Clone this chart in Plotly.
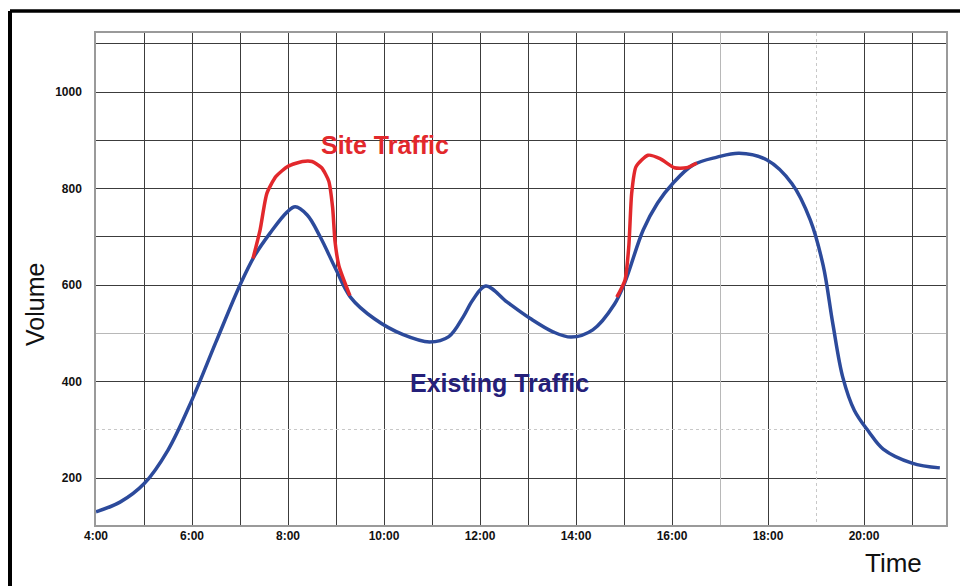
import plotly.graph_objects as go

# Existing traffic (hour of day, volume)
existing_hours = [4.0, 4.5, 5.0, 5.5, 6.0, 6.5, 7.0, 7.3, 7.63, 7.98, 8.15, 8.4, 8.67,
                  9.0, 9.3, 9.8, 10.4, 10.95, 11.35, 11.65, 11.85, 12.12, 12.56, 13.04,
                  13.52, 13.9, 14.35, 14.8, 15.02, 15.4, 15.7, 16.02, 16.44, 16.94, 17.4,
                  17.98, 18.5, 18.88, 19.15, 19.35, 19.56, 19.8, 20.1, 20.4, 21.0, 21.58]
existing_volume = [130, 150, 188, 258, 362, 482, 600, 660, 708, 751, 762, 745, 700,
                   632, 575, 530, 497, 482, 493, 534, 569, 598, 565, 531,
                   503, 492, 507, 560, 606, 714, 770, 811, 849, 865, 873,
                   859, 810, 735, 640, 520, 408, 340, 296, 260, 231, 221]

# Site traffic (morning and afternoon peaks)
site_am_hours = [7.27, 7.42, 7.56, 7.75, 8.0, 8.3, 8.5, 8.7, 8.85, 8.93, 8.98, 9.06, 9.29]
site_am_volume = [655, 715, 790, 825, 846, 856, 856, 843, 815, 760, 690, 640, 578]
site_pm_hours = [14.85, 15.02, 15.1, 15.16, 15.25, 15.5, 15.75, 16.05, 16.3, 16.52]
site_pm_volume = [575, 610, 680, 790, 845, 869, 862, 843, 843, 853]

x_tick_vals = [4, 6, 8, 10, 12, 14, 16, 18, 20]
x_tick_text = ["4:00", "6:00", "8:00", "10:00", "12:00", "14:00", "16:00", "18:00", "20:00"]
y_tick_vals = [200, 400, 600, 800, 1000]

BLUE = "#2c4a9b"
RED = "#e2282c"
NAVY = "#25207a"
GRID = "#3c3c3c"
FONT = "Liberation Sans, Arial, sans-serif"

fig = go.Figure()

# helper traces for overlay axes (special grid lines)
fig.add_trace(go.Scatter(x=[], y=[], xaxis="x2", yaxis="y2", showlegend=False))
fig.add_trace(go.Scatter(x=[], y=[], xaxis="x3", yaxis="y3", showlegend=False))

fig.add_trace(go.Scatter(x=existing_hours, y=existing_volume, mode="lines",
                         line=dict(color=BLUE, width=3.5, shape="spline", smoothing=1.0),
                         showlegend=False, hoverinfo="skip"))
fig.add_trace(go.Scatter(x=site_am_hours, y=site_am_volume, mode="lines",
                         line=dict(color=RED, width=3.5, shape="spline", smoothing=0.6),
                         showlegend=False, hoverinfo="skip"))
fig.add_trace(go.Scatter(x=site_pm_hours, y=site_pm_volume, mode="lines",
                         line=dict(color=RED, width=3.5, shape="spline", smoothing=0.6),
                         showlegend=False, hoverinfo="skip"))

xr = [4, 4 + 850 / 48]
yr = [102.6, 1122.3]

fig.update_layout(
    width=960, height=586,
    margin=dict(l=96, r=14, t=33, b=61),
    paper_bgcolor="white", plot_bgcolor="white",
    font=dict(family=FONT, color="#111"),
    xaxis=dict(range=xr, tickvals=x_tick_vals, ticktext=x_tick_text,
               showgrid=True, gridcolor=GRID, gridwidth=1.2,
               minor=dict(tickvals=[5, 7, 9, 11, 13, 15, 21], showgrid=True,
                          gridcolor=GRID, gridwidth=1.2),
               showline=False, zeroline=False, ticks="",
               tickfont=dict(size=12, family=FONT, color="#111", weight="bold"),
               ticklabelstandoff=2),
    yaxis=dict(range=yr, tickvals=y_tick_vals,
               showgrid=True, gridcolor=GRID, gridwidth=1.2,
               minor=dict(tickvals=[700, 900, 1100], showgrid=True,
                          gridcolor=GRID, gridwidth=1.2),
               showline=True, linecolor="#9a9a9a", linewidth=1.5, mirror=False,
               zeroline=False, ticks="",
               tickfont=dict(size=12, family=FONT, color="#111", weight="bold"),
               ticklabelstandoff=10),
    xaxis2=dict(range=xr, overlaying="x", tickvals=[17], showticklabels=False,
                showgrid=True, gridcolor="#b8b8b8", gridwidth=1.2, zeroline=False,
                showline=True, linecolor="#9a9a9a", linewidth=1.5, side="top", mirror=True),
    yaxis2=dict(range=yr, overlaying="y", tickvals=[500], showticklabels=False,
                showgrid=True, gridcolor="#b8b8b8", gridwidth=1.2, zeroline=False,
                showline=True, linecolor="#9a9a9a", linewidth=1.5, side="right"),
    xaxis3=dict(range=xr, overlaying="x", tickvals=[19], showticklabels=False,
                showgrid=True, gridcolor="#c8c8c8", gridwidth=1, griddash="dot",
                zeroline=False),
    yaxis3=dict(range=yr, overlaying="y", tickvals=[300], showticklabels=False,
                showgrid=True, gridcolor="#c8c8c8", gridwidth=1, griddash="dot",
                zeroline=False),
)

fig.add_annotation(x=10.02, y=890, xref="x", yref="y", text="<b>Site Traffic</b>",
                   showarrow=False, xanchor="center", yanchor="middle",
                   font=dict(size=25, color=RED, family=FONT))
fig.add_annotation(x=12.4, y=397, xref="x", yref="y", text="<b>Existing Traffic</b>",
                   showarrow=False, xanchor="center", yanchor="middle",
                   font=dict(size=25, color=NAVY, family=FONT))
fig.add_annotation(x=(893 - 96) / 850, y=(525 - 563) / 492, xref="paper", yref="paper",
                   text="Time", showarrow=False, xanchor="center", yanchor="middle",
                   font=dict(size=26, color="#111", family=FONT))
fig.add_annotation(x=(35 - 96) / 850, y=(525 - 305) / 492, xref="paper", yref="paper",
                   text="Volume", textangle=-90, showarrow=False,
                   xanchor="center", yanchor="middle",
                   font=dict(size=25, color="#111", family=FONT))

# outer black frame (left and top edges)
fx = (10 - 96) / 850
fy = (525 - 11) / 492
fig.add_shape(type="line", xref="paper", yref="paper", x0=fx, x1=fx, y0=-0.3, y1=fy,
              line=dict(color="black", width=4))
fig.add_shape(type="line", xref="paper", yref="paper", x0=fx, x1=1.2, y0=fy, y1=fy,
              line=dict(color="black", width=3.5))

fig.write_html("out.html", config={"displayModeBar": False},
               post_script="document.body.style.margin='0';document.body.style.padding='0';")
